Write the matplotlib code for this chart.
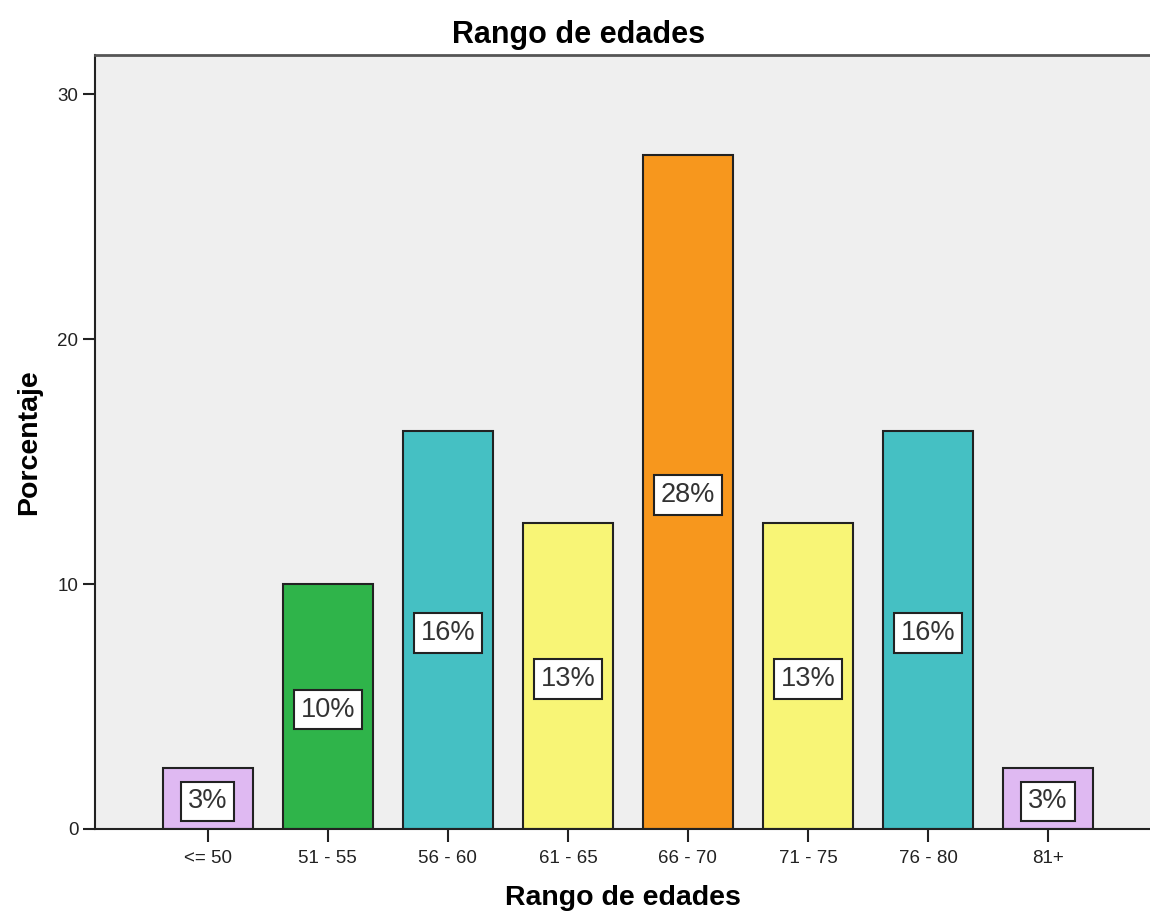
import numpy as np
import matplotlib.pyplot as plt

plt.rcParams['font.family'] = ['Liberation Sans', 'DejaVu Sans']

categorias = ['<= 50', '51 - 55', '56 - 60', '61 - 65', '66 - 70', '71 - 75', '76 - 80', '81+']
porcentaje = [2.5, 10.0, 16.25, 12.5, 27.5, 12.5, 16.25, 2.5]
etiquetas = ['3%', '10%', '16%', '13%', '28%', '13%', '16%', '3%']
colores = ['#dfb9f2', '#2fb44a', '#45c0c3', '#f8f576', '#f7971d', '#f8f576', '#45c0c3', '#dfb9f2']

fig = plt.figure(figsize=(11.5, 9.15), dpi=100)
ax = fig.add_axes([0.0826, 0.094, 0.9174, 0.846])
ax.set_facecolor('#efefef')

x = np.arange(len(categorias))
ax.bar(x, porcentaje, width=0.75, color=colores, edgecolor='#222222', linewidth=1.5, zorder=2)

# etiquetas en la mitad de cada barra
for xi, v, lab in zip(x, porcentaje, etiquetas):
    ax.text(xi, v / 2, lab, ha='center', va='center_baseline', fontsize=19.5, color='#333333', zorder=3,
            bbox=dict(boxstyle='square,pad=0.25', facecolor='white', edgecolor='#222222', linewidth=1.5))

ax.set_xlim(-0.94, 7.85)
ax.set_ylim(0, 31.6)
ax.set_xticks(x)
ax.set_xticklabels(categorias)
ax.set_yticks([0, 10, 20, 30])

ax.tick_params(axis='both', direction='out', length=9, width=1.5, colors='#222222', labelsize=13.5, pad=3)
ax.tick_params(axis='x', pad=6)

for s in ['left', 'bottom']:
    ax.spines[s].set_color('#222222')
    ax.spines[s].set_linewidth(1.5)
ax.spines['top'].set_color('#555555')
ax.spines['top'].set_linewidth(2)
ax.spines['right'].set_visible(False)

# titulo centrado en la figura, como en SPSS
fig.text(0.503, 0.962, 'Rango de edades', ha='center', va='center', fontsize=22, fontweight='bold')
ax.set_xlabel('Rango de edades', fontsize=20.5, fontweight='bold', labelpad=13)
ax.set_ylabel('Porcentaje', fontsize=20.5, fontweight='bold', labelpad=11)

fig.savefig('out.png', dpi=100, facecolor='white')
